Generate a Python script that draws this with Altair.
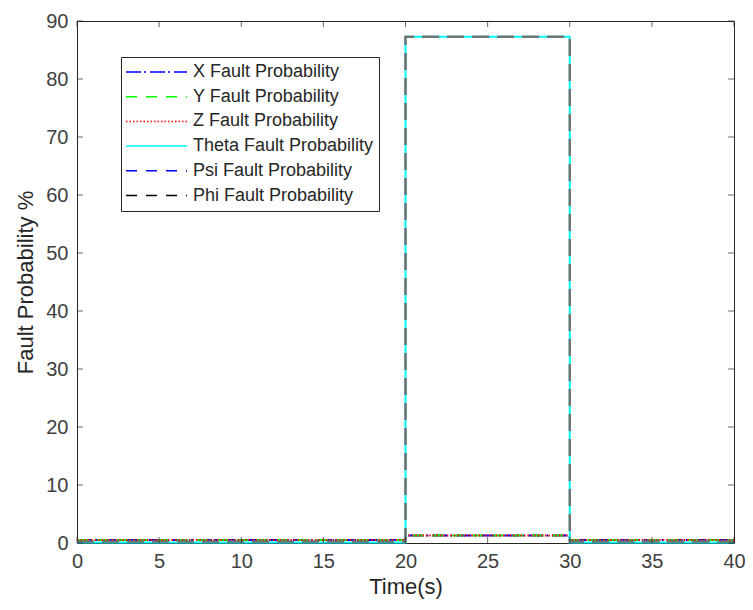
import altair as alt
import pandas as pd

# ---- data ----
time = [0, 20, 20, 30, 30, 40]
x_fault = [0.5, 0.5, 1.3, 1.3, 0.5, 0.5]
y_fault = [0.5, 0.5, 1.3, 1.3, 0.5, 0.5]
z_fault = [0.5, 0.5, 1.3, 1.3, 0.5, 0.5]
theta_fault = [0.1, 0.1, 87.3, 87.3, 0.1, 0.1]
psi_fault = [0.25, 0.25, 87.3, 87.3, 0.25, 0.25]
phi_fault = [0.25, 0.25, 87.3, 87.3, 0.25, 0.25]

names = ["X Fault Probability", "Y Fault Probability", "Z Fault Probability",
         "Theta Fault Probability", "Psi Fault Probability", "Phi Fault Probability"]
series = [x_fault, y_fault, z_fault, theta_fault, psi_fault, phi_fault]
colors = ["#0000ff", "#00ff00", "#ff0000", "#00ffff", "#0000ff", "#000000"]
dashes = [[15, 3, 2, 4], [11, 9], [1.5, 2], [1, 0], [11, 9], [11, 9]]

x_ticks = [0, 5, 10, 15, 20, 25, 30, 35, 40]
y_ticks = [0, 10, 20, 30, 40, 50, 60, 70, 80, 90]

W, H = 657, 522
AX = "#262626"

rows = []
for name, vals in zip(names, series):
    for i, (t, v) in enumerate(zip(time, vals)):
        rows.append({"series": name, "time": t, "value": v, "i": i})
df = pd.DataFrame(rows)

xs = alt.Scale(domain=[0, 40], nice=False, zero=False)
ys = alt.Scale(domain=[0, 90], nice=False, zero=False)

x_axis = alt.Axis(values=x_ticks, grid=False, domain=False, ticks=False, labelFlush=False,
                  labelFontSize=20, labelColor="#404040", labelPadding=8,
                  labelFont="Liberation Sans", title="Time(s)", titleFont="Liberation Sans",
                  titleFontSize=22, titleFontWeight="normal", titleColor=AX, titlePadding=5)
y_axis = alt.Axis(values=y_ticks, grid=False, domain=False, ticks=False, labelFlush=False,
                  labelFontSize=20, labelColor="#404040", labelPadding=9,
                  labelFont="Liberation Sans", title="Fault Probability %", titleFont="Liberation Sans",
                  titleFontSize=22, titleFontWeight="normal", titleColor=AX, titlePadding=8)

legend = alt.Legend(title=None, orient="none", legendX=44, legendY=36,
                    symbolType="stroke", symbolSize=3721, symbolStrokeWidth=1.5,
                    symbolOffset=-1, labelOffset=5, clipHeight=20, rowPadding=4.7,
                    labelFont="Liberation Sans", labelFontSize=18, labelColor=AX,
                    padding=5, fillColor="white", strokeColor=AX, cornerRadius=0,
                    labelLimit=400)

color = alt.Color("series:N", scale=alt.Scale(domain=names, range=colors), legend=legend, sort=names)
sdash = alt.StrokeDash("series:N", scale=alt.Scale(domain=names, range=dashes), legend=legend, sort=names)

base = alt.Chart(df).mark_line(strokeWidth=2).encode(
    x=alt.X("time:Q", scale=xs, axis=x_axis),
    y=alt.Y("value:Q", scale=ys, axis=y_axis),
    color=color,
    strokeDash=sdash,
    order=alt.Order("i:Q"),
)
layers = []
for n in names:
    lyr = base.transform_filter(alt.datum.series == n)
    if n in ("Psi Fault Probability", "Phi Fault Probability"):
        lyr = lyr.encode(color=alt.value("#707070"), strokeDash=alt.value([17, 8]))
    layers.append(lyr)

xt = pd.DataFrame({"t": x_ticks})
yt = pd.DataFrame({"v": y_ticks})
tick_bottom = alt.Chart(xt).mark_tick(orient="vertical", size=6, thickness=1, color=AX).encode(
    x=alt.X("t:Q", scale=xs, axis=x_axis), y=alt.value(H - 3))
tick_top = alt.Chart(xt).mark_tick(orient="vertical", size=6, thickness=1, color=AX).encode(
    x=alt.X("t:Q", scale=xs, axis=x_axis), y=alt.value(3))
tick_left = alt.Chart(yt).mark_tick(orient="horizontal", size=6, thickness=1, color=AX).encode(
    y=alt.Y("v:Q", scale=ys, axis=y_axis), x=alt.value(3))
tick_right = alt.Chart(yt).mark_tick(orient="horizontal", size=6, thickness=1, color=AX).encode(
    y=alt.Y("v:Q", scale=ys, axis=y_axis), x=alt.value(W - 3))

chart = alt.layer(*layers, tick_bottom, tick_top, tick_left, tick_right).properties(
    width=W, height=H,
    autosize=alt.AutoSizeParams(type="none"),
    padding={"left": 69, "top": 13, "right": 11, "bottom": 59},
    background="white",
).configure_view(stroke=AX, strokeWidth=1)

chart.save("out.html", embed_options={"renderer": "svg", "actions": False})
